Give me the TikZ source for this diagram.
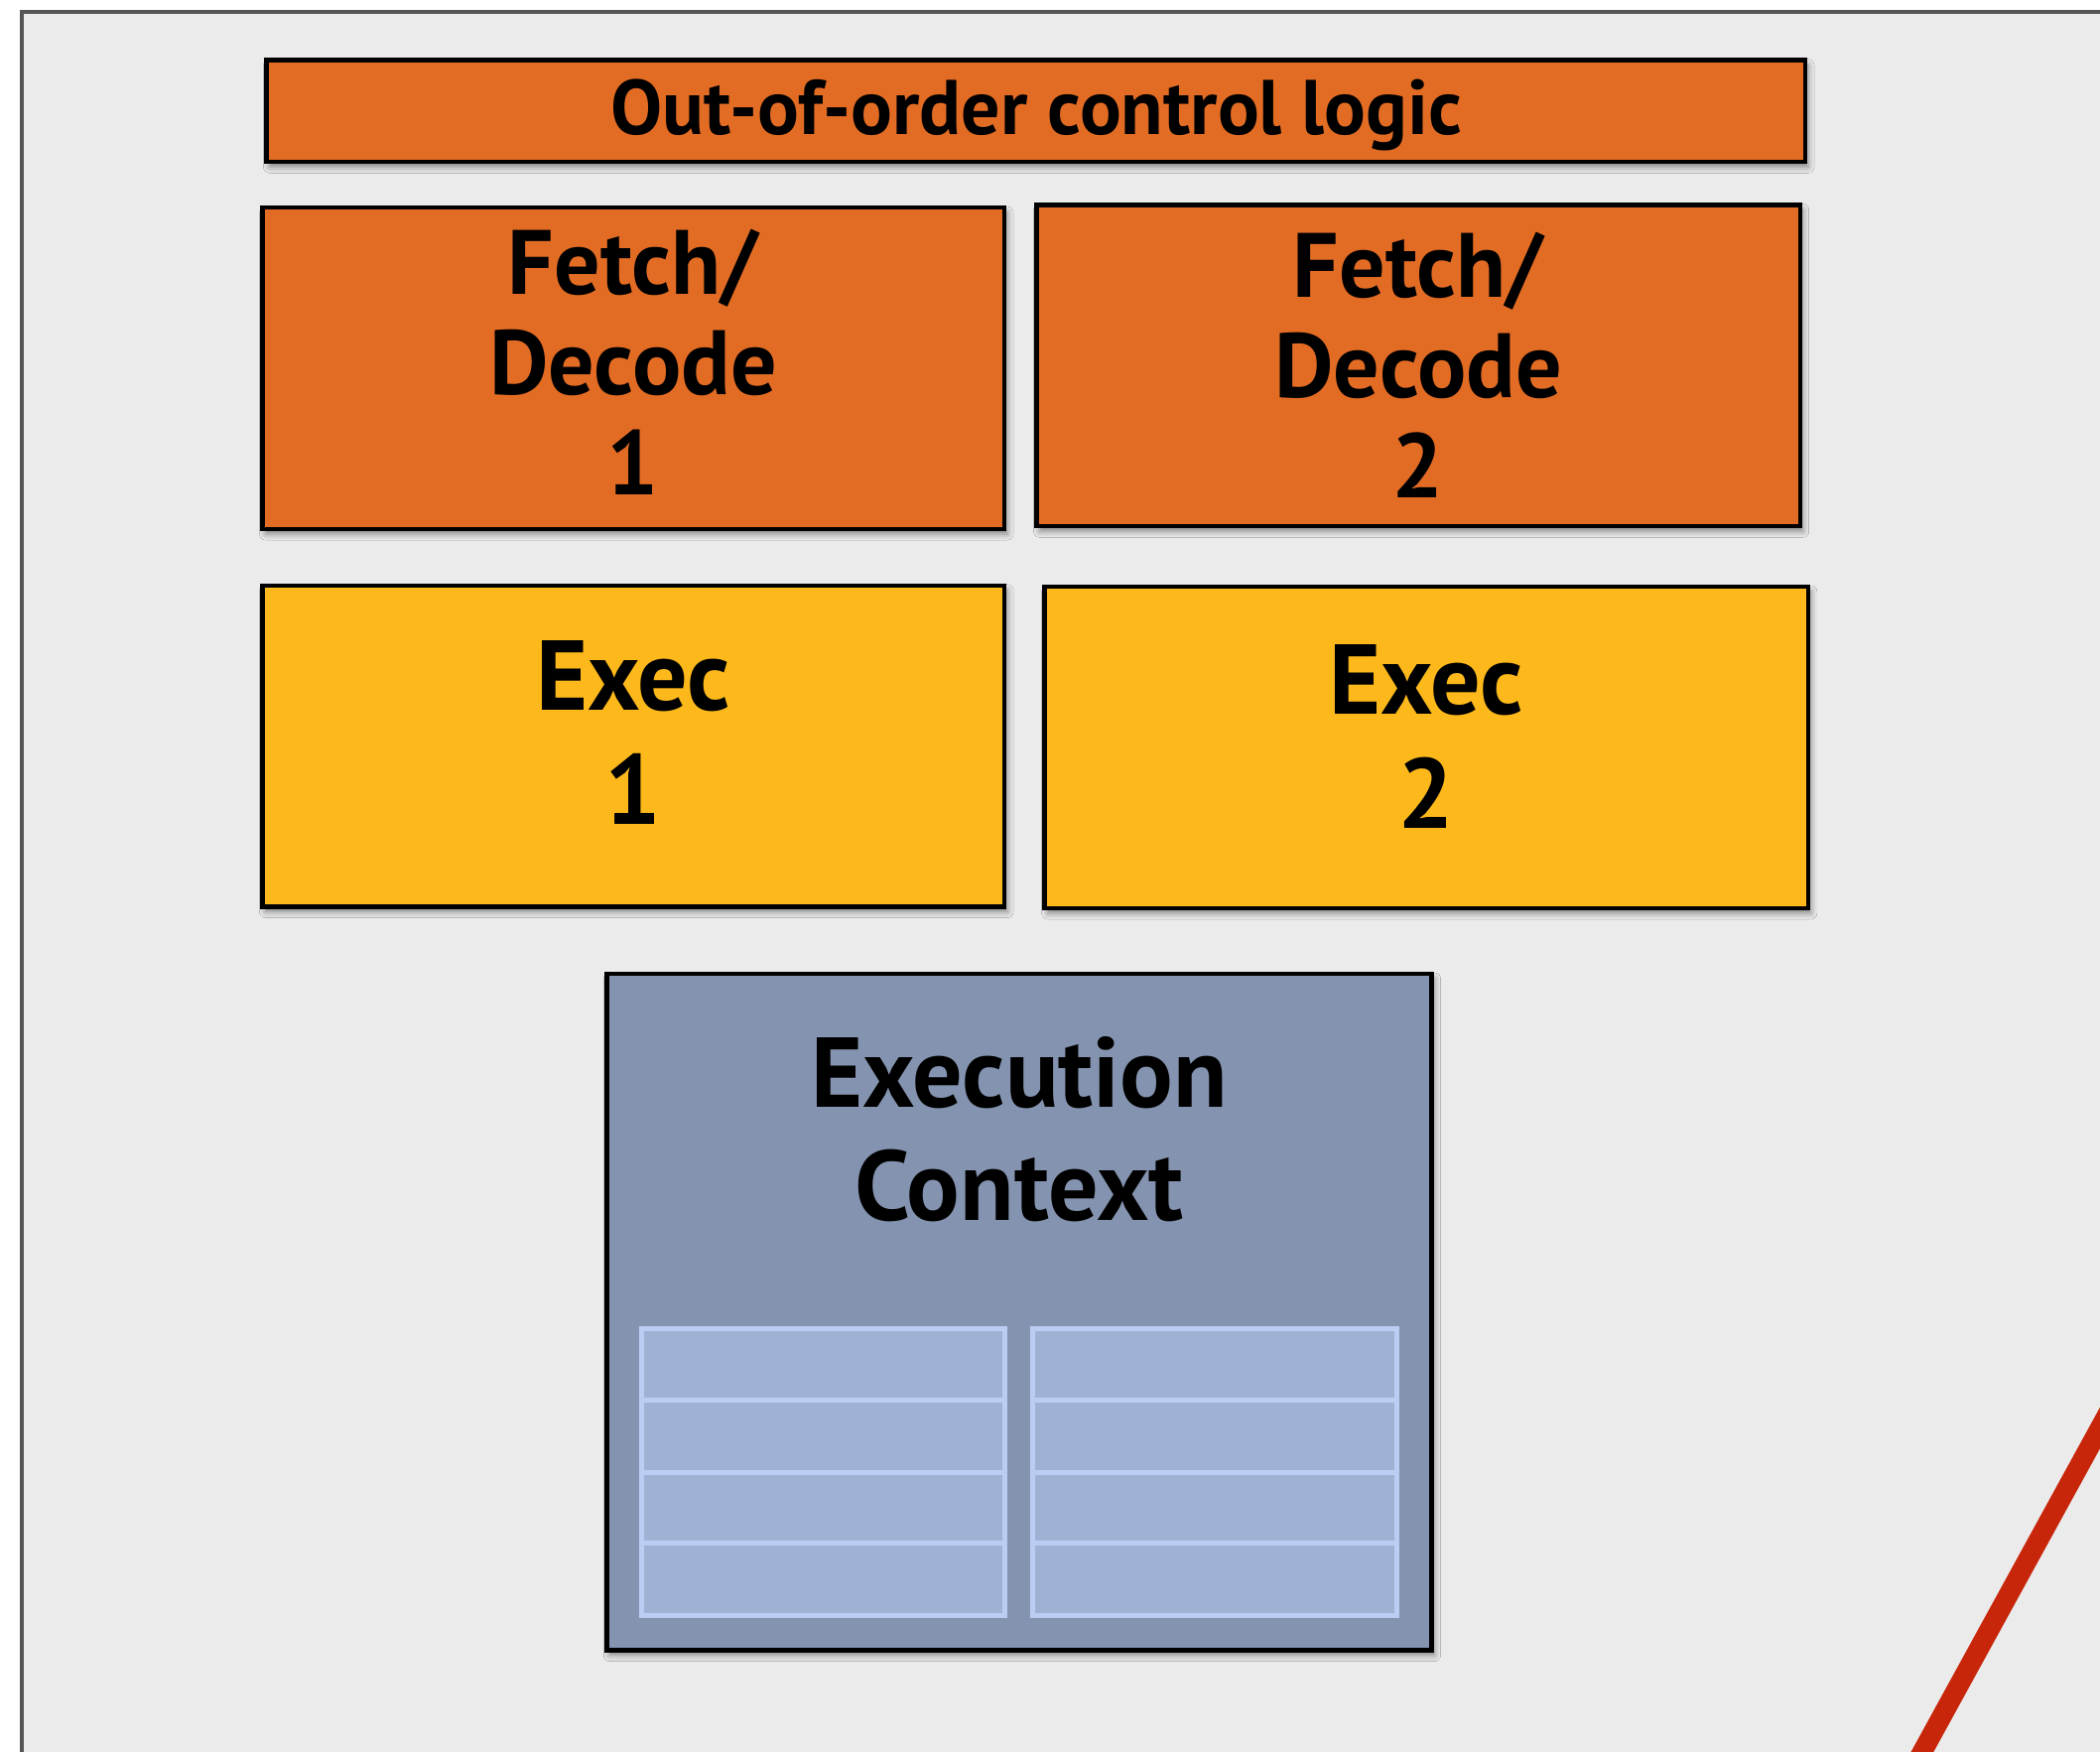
\documentclass[tikz,border=0pt]{standalone}
\usepackage{fontspec}
\setmainfont{PT Sans}
\usetikzlibrary{fit,shadows.blur}

\definecolor{pagebg}{HTML}{EBEBEB}
\definecolor{framegray}{HTML}{555555}
\definecolor{ctrlorange}{HTML}{E36C24}
\definecolor{execyellow}{HTML}{FDB91B}
\definecolor{ctxblue}{HTML}{8493AF}
\definecolor{regfill}{HTML}{A0B2D4}
\definecolor{regline}{HTML}{BCCDF4}
\definecolor{slashred}{HTML}{C8260A}

\tikzset{
  unit/.style={draw=black, line width=2.2pt, inner sep=0pt,
    blur shadow={shadow xshift=1.5pt, shadow yshift=-2.5pt,
      shadow blur radius=3pt, shadow opacity=45}},
  ctrlbox/.style={unit, fill=ctrlorange},
  execbox/.style={unit, fill=execyellow},
  ctxbox/.style={unit, fill=ctxblue},
  regbox/.style={draw=regline, fill=regfill, line width=2.5pt, inner sep=0pt},
  regsep/.style={draw=regline, line width=2.5pt},
  smalllbl/.style={anchor=base, inner sep=0pt, font=\bfseries\fontsize{39}{43}\selectfont},
  biglbl/.style={anchor=base, inner sep=0pt, font=\bfseries\fontsize{46}{50}\selectfont},
  hugelbl/.style={anchor=base, inner sep=0pt, font=\bfseries\fontsize{50}{54}\selectfont},
}

\begin{document}
\begin{tikzpicture}[x=0.5pt, y=-0.5pt]
\useasboundingbox (0,0) rectangle (2116,1765);
\clip (0,0) rectangle (2116,1765);
\fill[white] (0,0) rectangle (2116,1765);

% slide frame
\draw[framegray, line width=2.2pt, fill=pagebg] (22,12) rectangle (2160,1800);

% control logic and front ends
\node[ctrlbox, fit={(268.5,60.7) (1819,163.3)}] (ooo) {};
\node[ctrlbox, fit={(264.5,209) (1012,533)}] (fd1) {};
\node[ctrlbox, fit={(1044.5,206.5) (1813.7,530.3)}] (fd2) {};

% execution units
\node[execbox, fit={(264.5,589.7) (1012,913.6)}] (ex1) {};
\node[execbox, fit={(1052.6,591) (1821.8,915)}] (ex2) {};

% execution context with its register file
\node[ctxbox, fit={(611.3,981) (1442.6,1662.6)}] (ctx) {};
\node[regbox, fit={(646.4,1338.7) (1012,1627.5)}] (regA) {};
\node[regbox, fit={(1040.5,1338.7) (1407.5,1627.5)}] (regB) {};
\foreach \r in {1410.2,1483,1554.6}{
  \draw[regsep] (regA.west |- 0,\r) -- (regA.east |- 0,\r);
  \draw[regsep] (regB.west |- 0,\r) -- (regB.east |- 0,\r);
}

% labels
\node[smalllbl] (oootxt) at (1044,136) {Out-of-order control logic};

\node[biglbl] (fd1a) at (638,297) {Fetch/};
\node[biglbl] (fd1b) at (638,398) {Decode};
\node[biglbl] (fd1c) at (638,499) {1};
\node[biglbl] (fd2a) at (1429,300) {Fetch/};
\node[biglbl] (fd2b) at (1429,401) {Decode};
\node[biglbl] (fd2c) at (1429,502) {2};

\node[hugelbl] (ex1a) at (638,715) {Exec};
\node[hugelbl] (ex1b) at (638,830) {1};
\node[hugelbl] (ex2a) at (1437,719) {Exec};
\node[hugelbl] (ex2b) at (1437,834) {2};

\node[hugelbl] (ctxa) at (1027,1115) {Execution};
\node[hugelbl] (ctxb) at (1027,1229) {Context};

% red stroke entering from the right edge
\coordinate (slashtop) at (2170,1340);
\coordinate (slashbot) at (1910,1814);
\draw[slashred, line width=10pt] (slashtop) -- (slashbot);
\end{tikzpicture}
\end{document}
